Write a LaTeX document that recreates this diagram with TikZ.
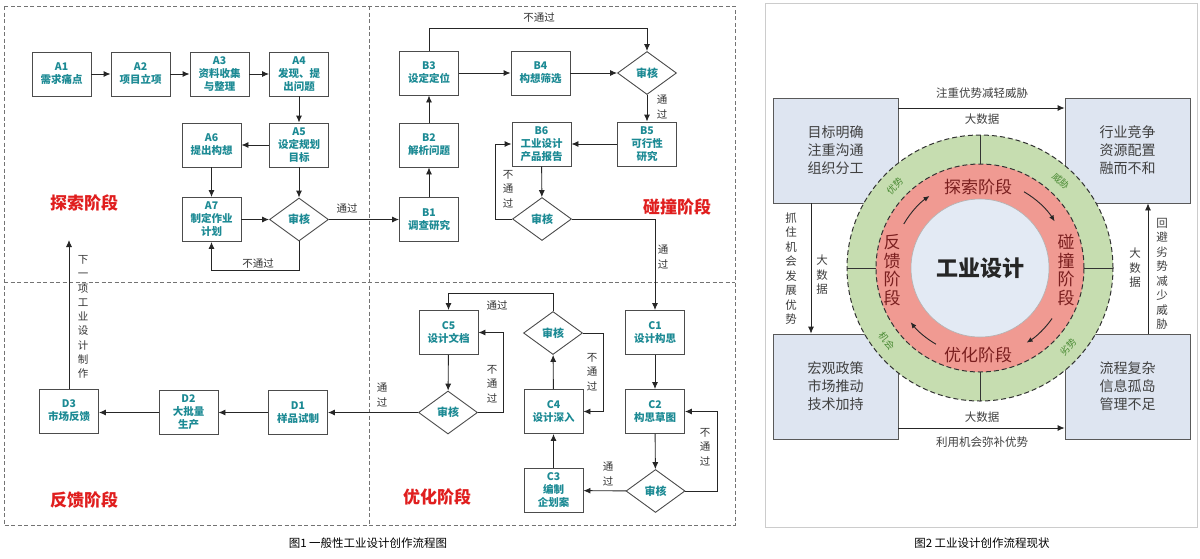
\documentclass[tikz,border=0pt]{standalone}
\usepackage{fontspec}
\setmainfont{Noto Sans CJK SC}
\usetikzlibrary{shapes.geometric,arrows.meta,calc}
\definecolor{boxtxt}{HTML}{1C8A94}
\definecolor{phred}{HTML}{E01E1E}
\definecolor{boxfill}{HTML}{DEE5F1}
\definecolor{ringgreen}{HTML}{C6DDB0}
\definecolor{ringred}{HTML}{F09A92}
\definecolor{innerblue}{HTML}{E3EAF4}
\definecolor{ringtxt}{HTML}{7A1F1F}
\definecolor{gtxt}{HTML}{4A8A34}
\begin{document}
\begin{tikzpicture}[x=1pt,y=-1pt,
  box/.style={draw=black!70, line width=0.9pt, fill=white, minimum width=59pt, minimum height=44pt, inner sep=1pt, align=center, text=boxtxt, font=\fontsize{10.5}{13}\selectfont\bfseries},
  dia/.style={diamond, draw=black!70, line width=0.9pt, fill=white, minimum width=59pt, minimum height=43pt, inner sep=0pt, text=boxtxt, font=\fontsize{11}{13}\selectfont\bfseries},
  arr/.style={draw=black!85, line width=0.9pt, -{Latex[length=7pt,width=6pt]}},
  lab/.style={font=\fontsize{10.5}{14.3}\selectfont, text=black!80, align=center, inner sep=0pt},
  phase/.style={font=\fontsize{17}{17}\selectfont\bfseries, text=phred},
  frame/.style={draw=black!55, line width=0.8pt, dash pattern=on 4pt off 2.5pt},
  rbox/.style={draw=black!65, line width=0.8pt, fill=boxfill, minimum width=125pt, minimum height=105pt, align=center, text=black!75, font=\fontsize{14}{18}\selectfont},
  rlab/.style={font=\fontsize{11.5}{14.5}\selectfont, text=black!75, align=center, inner sep=0pt},
  ringlab/.style={font=\fontsize{17}{18.5}\selectfont, text=ringtxt, align=center, inner sep=0pt},
  glab/.style={font=\fontsize{9.5}{10}\selectfont, text=gtxt, inner sep=0pt},
  captext/.style={font=\fontsize{11.5}{12}\selectfont, text=black}
]
\useasboundingbox (0,0) rectangle (1200,558);
\fill[white] (0,0) rectangle (1200,558);

% ---------- Figure 1 frames ----------
\draw[frame] (4,6) rectangle (735,525);
\draw[frame] (369,6) -- (369,525);
\draw[frame] (4,282) -- (735,282);

% ---------- A nodes ----------
\node[box] (A1) at (61.5,74) {A1\\需求痛点};
\node[box] (A2) at (140.5,74) {A2\\项目立项};
\node[box] (A3) at (219.5,74) {A3\\资料收集\\与整理};
\node[box] (A4) at (299,74) {A4\\发现、提\\出问题};
\node[box] (A5) at (299,145) {A5\\设定规划\\目标};
\node[box] (A6) at (211.5,145) {A6\\提出构想};
\node[box] (A7) at (211.5,219.5) {A7\\制定作业\\计划};
\node[dia] (dA) at (299,219.5) {审核};

\draw[arr] (A1) -- (A2);
\draw[arr] (A2) -- (A3);
\draw[arr] (A3) -- (A4);
\draw[arr] (A4) -- (A5);
\draw[arr] (A5) -- (A6);
\draw[arr] (A6) -- (A7);
\draw[arr] (A5) -- (dA);
\draw[arr] (A7) -- (dA);
\draw[arr] (dA.south) -- (dA.south |- 0,270) -| (A7.south);
\node[lab] (lA1) at (258,264) {不通过};

% ---------- B nodes ----------
\node[box] (B1) at (429,219.5) {B1\\调查研究};
\node[box] (B2) at (429,145) {B2\\解析问题};
\node[box] (B3) at (429,73) {B3\\设定定位};
\node[box] (B4) at (540.5,73) {B4\\构想筛选};
\node[dia] (dB) at (647,73) {审核};
\node[box] (B5) at (647,144) {B5\\可行性\\研究};
\node[box] (B6) at (541.5,144) {B6\\工业设计\\产品报告};
\node[dia] (dB6) at (542,219) {审核};

\draw[arr] (dA) -- (B1);
\node[lab] (lA2) at (347,208) {通过};
\draw[arr] (B1) -- (B2);
\draw[arr] (B2) -- (B3);
\draw[arr] (B3) -- (B4);
\draw[arr] (B4) -- (dB);
\draw[arr] (B3.north) -- (B3.north |- 0,28) -| (dB.north);
\node[lab] (lB1) at (539,18) {不通过};
\draw[arr] (dB) -- (B5);
\node[lab] (lB2) at (662,107) {通\\过};
\draw[arr] (B5) -- (B6);
\draw[arr] (B6) -- (dB6);
\draw[arr] (dB6.west) -- (495,219) |- (B6.west);
\node[lab] (lB3) at (508,189) {不\\通\\过};

% ---------- C nodes ----------
\node[box] (C1) at (655,332.5) {C1\\设计构思};
\node[box] (C2) at (655,411.5) {C2\\构思草图};
\node[dia] (dC2) at (655.5,491) {审核};
\node[box] (C3) at (553.5,490.5) {C3\\编制\\企划案};
\node[box] (C4) at (553.5,411.5) {C4\\设计深入};
\node[dia] (dC4) at (553,333) {审核};
\node[box] (C5) at (448.5,332.5) {C5\\设计文档};
\node[dia] (dC5) at (448,412.5) {审核};

\draw[arr] (dB6.east) -| (C1.north);
\node[lab] (lB4) at (663,257) {通\\过};
\draw[arr] (C1) -- (C2);
\draw[arr] (C2) -- (dC2);
\draw[arr] (dC2) -- (C3);
\node[lab] (lC1) at (608,474) {通\\过};
\draw[arr] (dC2.east) -- (717,491) |- (C2.east);
\node[lab] (lC2) at (705,447) {不\\通\\过};
\draw[arr] (C3) -- (C4);
\draw[arr] (C4) -- (dC4);
\draw[arr] (dC4.east) -- (603,333) |- (C4.east);
\node[lab] (lC3) at (592,372) {不\\通\\过};
\draw[arr] (dC4.north) -- (dC4.north |- 0,293) -| (C5.north);
\node[lab] (lC4) at (497,305) {通过};
\draw[arr] (C5) -- (dC5);
\draw[arr] (dC5.east) -- (503,412.5) |- (C5.east);
\node[lab] (lC5) at (492,384) {不\\通\\过};

% ---------- D nodes ----------
\node[box] (D1) at (298,412.5) {D1\\样品试制};
\node[box] (D2) at (188.5,412.5) {D2\\大批量\\生产};
\node[box] (D3) at (69,411) {D3\\市场反馈};
\coordinate (nxt) at (69,240);

\draw[arr] (dC5) -- (D1);
\node[lab] (lD1) at (382,395) {通\\过};
\draw[arr] (D1) -- (D2);
\draw[arr] (D2) -- (D2 -| D3.east);
\draw[arr] (D3.north) -- (nxt);
\node[lab] (lD2) at (83,317) {下\\一\\项\\工\\业\\设\\计\\制\\作};

% ---------- phase labels ----------
\node[phase] (p1) at (84,203) {探索阶段};
\node[phase] (p2) at (677,207) {碰撞阶段};
\node[phase] (p3) at (84,500) {反馈阶段};
\node[phase] (p4) at (437,497) {优化阶段};

\node[captext] (cap1) at (368,543) {图1 一般性工业设计创作流程图};

% ---------- Figure 2 ----------
\draw[draw=black!20, line width=0.8pt] (765,3) rectangle (1197,527);

\node[rbox] (TL) at (835.5,150.5) {目标明确\\注重沟通\\组织分工};
\node[rbox] (TR) at (1127.5,150.5) {行业竞争\\资源配置\\融而不和};
\node[rbox] (BL) at (835.5,386.5) {宏观政策\\市场推动\\技术加持};
\node[rbox] (BR) at (1127.5,386.5) {流程复杂\\信息孤岛\\管理不足};

\coordinate (ctr) at (980,268);
\fill[ringgreen] (ctr) circle[radius=133pt];
\draw[black!80, line width=1pt, dash pattern=on 5pt off 3pt] (ctr) circle[radius=133pt];
\fill[ringred] (ctr) circle[radius=104pt];
\draw[black!80, line width=1pt, dash pattern=on 5pt off 3pt] (ctr) circle[radius=104pt];
\fill[innerblue] (ctr) circle[radius=69pt];
\draw[black!30, line width=0.6pt] (ctr) circle[radius=69pt];
\foreach \a in {0,90,180,270}{
  \draw[black!80, line width=0.9pt] ([shift={(\a:104pt)}]ctr) -- ([shift={(\a:133pt)}]ctr);
}

\node[font=\fontsize{22}{22}\selectfont\bfseries, text=black!85] (core) at (ctr) {工业设计};
\node[ringlab] (r1) at (978,187) {探索阶段};
\node[ringlab] (r2) at (978,355) {优化阶段};
\node[ringlab] (r3) at (892,270) {反\\馈\\阶\\段};
\node[ringlab] (r4) at (1066,270) {碰\\撞\\阶\\段};

\foreach \s/\e in {150/125, 60/32, -35/-58, 240/218}{
  \draw[black!85, line width=0.9pt, -{Latex[length=6pt,width=5pt]}] ([shift={(\s:88pt)}]ctr) arc[start angle=\s, end angle=\e, radius=88pt];
}

\node[glab, rotate=46] (g1) at ([shift={(136:118.5pt)}]ctr) {优势};
\node[glab, rotate=-43] (g2) at ([shift={(47:118.5pt)}]ctr) {威胁};
\node[glab, rotate=-52] (g3) at ([shift={(218:118.5pt)}]ctr) {机会};
\node[glab, rotate=48] (g4) at ([shift={(-42:118.5pt)}]ctr) {劣势};

\draw[arr, line width=0.8pt] (TL.east |- 0,108) -- (TR.west |- 0,108);
\draw[arr, line width=0.8pt] (BL.east |- 0,428) -- (BR.west |- 0,428);
\draw[arr, line width=0.8pt] (TL.south -| 811,0) -- (BL.north -| 811,0);
\draw[arr, line width=0.8pt] (BR.north -| 1148,0) -- (TR.south -| 1148,0);

\node[rlab] (t1) at (982,93) {注重优势减轻威胁};
\node[rlab] (t2) at (982,119) {大数据};
\node[rlab] (t3) at (982,417) {大数据};
\node[rlab] (t4) at (982,442) {利用机会弥补优势};
\node[rlab] (t5) at (791,268.5) {抓\\住\\机\\会\\发\\展\\优\\势};
\node[rlab] (t6) at (822,275) {大\\数\\据};
\node[rlab] (t7) at (1162,274) {回\\避\\劣\\势\\减\\少\\威\\胁};
\node[rlab] (t8) at (1135,268) {大\\数\\据};

\node[captext] (cap2) at (982,543) {图2 工业设计创作流程现状};
\end{tikzpicture}
\end{document}
